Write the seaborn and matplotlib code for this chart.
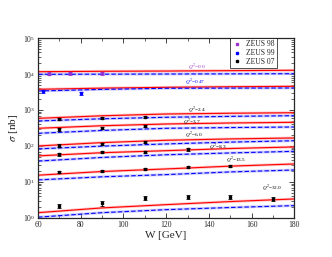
import numpy as np
import pandas as pd
import seaborn as sns
import matplotlib.pyplot as plt
from matplotlib.lines import Line2D
from matplotlib.ticker import MultipleLocator, LogLocator, NullFormatter

# -----------------------------
# data
# -----------------------------
W_grid = [60, 90, 120, 150, 180]
Q2_labels = ["0.0", "0.47", "2.4", "3.7", "6.0", "8.3", "13.5", "32.0"]

red_q00 = [11600, 11900, 12100, 12400, 12700]
red_q047 = [3760, 4050, 4270, 4430, 4550]
red_q24 = [587, 690, 774, 812, 841]
red_q37 = [310, 365, 408, 435, 455]
red_q60 = [100, 124, 144, 157, 167]
red_q83 = [53, 65, 74, 85, 94]
red_q135 = [15.4, 19.5, 23, 27.5, 31.6]
red_q32 = [1.40, 1.90, 2.34, 2.85, 3.37]

blue_q00 = [9810, 9900, 10000, 10100, 10200]
blue_q047 = [3370, 3740, 4010, 4060, 4090]
blue_q24 = [495, 570, 627, 665, 695]
blue_q37 = [225, 270, 310, 325, 337]
blue_q60 = [83, 99, 114, 128, 140]
blue_q83 = [38, 48, 57, 64, 71]
blue_q135 = [11.4, 13.9, 16, 19, 21.5]
blue_q32 = [1.05, 1.40, 1.70, 1.95, 2.2]

red_curves = [red_q00, red_q047, red_q24, red_q37, red_q60, red_q83, red_q135, red_q32]
blue_curves = [blue_q00, blue_q047, blue_q24, blue_q37, blue_q60, blue_q83, blue_q135, blue_q32]

# ZEUS 98 (Q2 = 0)
z98_W = [65, 75, 90]
z98_sig = [10200, 10400, 10500]
z98_err = [900, 900, 900]

# ZEUS 99 (Q2 = 0.47)
z99_W = [62.5, 80]
z99_sig = [3300, 2950]
z99_err = [280, 280]

# ZEUS 07 (Q2 = 2.4 ... 32)
z07_W = [70, 90, 110,
         70, 90, 110,
         70, 90, 110,
         70, 90, 110, 130,
         70, 90, 110, 130, 150,
         70, 90, 110, 130, 150, 170]
z07_sig = [562, 588, 627,
           291, 322, 366,
           102, 116, 132,
           58.7, 66.8, 69.5, 80,
           19.3, 20.6, 23, 25.6, 28.4,
           2.15, 2.56, 3.52, 3.76, 3.76, 3.37]
z07_err = [40, 40, 45,
           22, 22, 25,
           8, 8, 9,
           4.5, 4.5, 5, 6,
           1.5, 1.5, 1.6, 1.8, 2.0,
           0.3, 0.35, 0.45, 0.5, 0.5, 0.5]

# label anchors (W, sigma)
lab_W = [130, 129, 130, 128, 129, 140, 148, 165]
lab_sig = [15500, 6150, 1000, 473, 202, 95, 41, 6.7]
lab_col = ["#9932CC", "blue", "black", "black", "black", "black", "black", "black"]

# -----------------------------
# plot
# -----------------------------
sns.set_style("ticks")
plt.rcParams["font.family"] = ["Liberation Serif", "DejaVu Serif"]
plt.rcParams["mathtext.fontset"] = "stix"

fig = plt.figure(figsize=(3.32, 2.57), dpi=100)
ax = fig.add_axes([0.1145, 0.152, 0.772, 0.70])

for rv, bv in zip(red_curves, blue_curves):
    df_r = pd.DataFrame({"W": W_grid, "sigma": rv})
    df_b = pd.DataFrame({"W": W_grid, "sigma": bv})
    # soft bands
    sns.lineplot(data=df_r, x="W", y="sigma", color="#ff9999", lw=2.0, alpha=0.6, ax=ax)
    sns.lineplot(data=df_b, x="W", y="sigma", color="#aaaaff", lw=2.0, alpha=0.6, ax=ax)
    sns.lineplot(data=df_r, x="W", y="sigma", color="red", lw=0.8, ax=ax)
    sns.lineplot(data=df_b, x="W", y="sigma", color="blue", lw=0.8, ax=ax,
                 dashes=False, linestyle=(0, (4, 2)))

ax.errorbar(z98_W, z98_sig, yerr=z98_err, fmt="s", ms=1.6, color="#9932CC",
            elinewidth=0.6, capsize=1.5, capthick=0.6, zorder=5)
ax.errorbar(z99_W, z99_sig, yerr=z99_err, fmt="s", ms=1.6, color="blue",
            elinewidth=0.6, capsize=1.5, capthick=0.6, zorder=5)
ax.errorbar(z07_W, z07_sig, yerr=z07_err, fmt="s", ms=1.6, color="black",
            elinewidth=0.6, capsize=1.5, capthick=0.6, zorder=5)

for lab, lw_, ls_, c in zip(Q2_labels, lab_W, lab_sig, lab_col):
    ax.text(lw_, ls_, r"$Q^2$=" + lab, fontsize=3.8, color=c, ha="left", va="center")

ax.set_yscale("log")
ax.set_xlim(60, 180)
ax.set_ylim(1, 1e5)
ax.xaxis.set_major_locator(MultipleLocator(20))
ax.xaxis.set_minor_locator(MultipleLocator(10))
ax.yaxis.set_major_locator(LogLocator(base=10, numticks=10))
ax.yaxis.set_minor_locator(LogLocator(base=10, subs=np.arange(2, 10), numticks=20))
ax.yaxis.set_minor_formatter(NullFormatter())
ax.tick_params(which="both", direction="in", top=True, right=True, labelsize=5.5, pad=2)
ax.tick_params(which="major", length=3.5, width=0.6)
ax.tick_params(which="minor", length=2, width=0.5)
for s in ax.spines.values():
    s.set_linewidth(0.9)

ax.set_xlabel("W [GeV]", fontsize=8, labelpad=2)
ax.set_ylabel(r"$\sigma$ [nb]", fontsize=8, labelpad=2)

handles = [Line2D([], [], ls="none", marker="s", ms=1.6, color=c)
           for c in ["#9932CC", "blue", "black"]]
leg = ax.legend(handles, ["ZEUS 98", "ZEUS 99", "ZEUS 07"], loc="upper right",
                bbox_to_anchor=(0.934, 1.0),
                fontsize=5.5, frameon=True, fancybox=False,
                borderaxespad=0.0, handletextpad=0.6, borderpad=0.3,
                labelspacing=0.12, handlelength=1.2)
leg.get_frame().set_edgecolor("black")
leg.get_frame().set_linewidth(0.6)

fig.savefig("out.png", dpi=100)
